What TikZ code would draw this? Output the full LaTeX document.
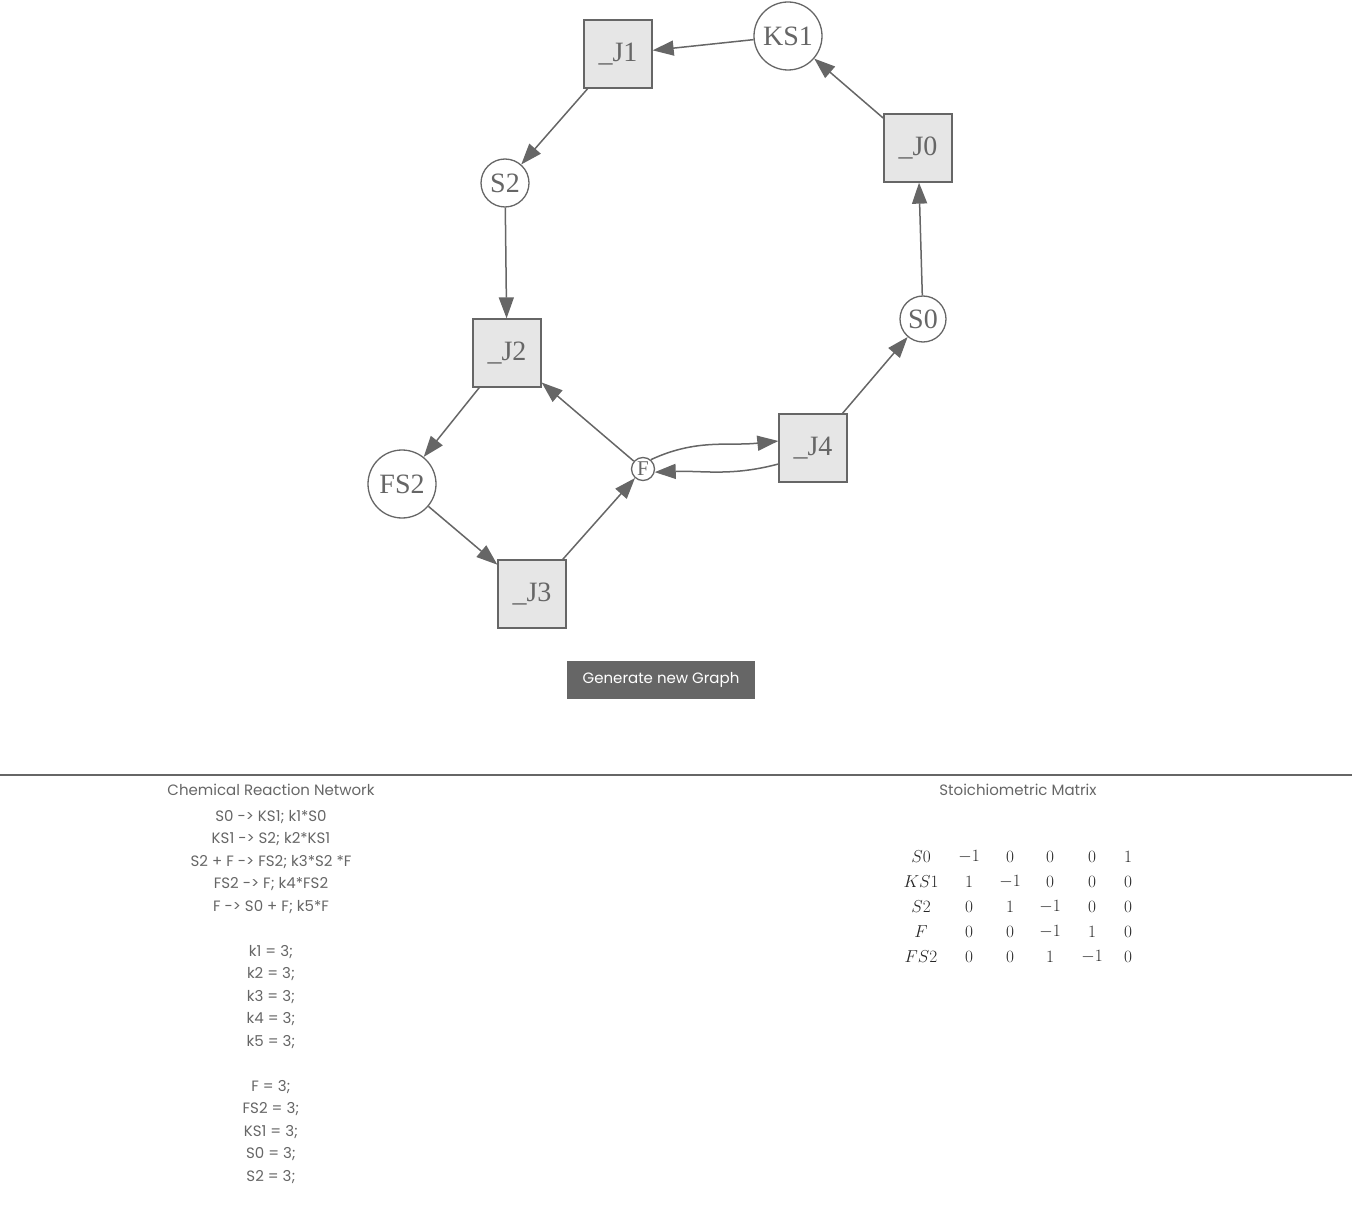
\documentclass[tikz,border=0pt]{standalone}
\usepackage{fontspec}
\newfontfamily\graphfont{Liberation Serif}
\newfontfamily\uifont{Poppins}
\usetikzlibrary{arrows.meta}
\definecolor{edgegray}{HTML}{666666}
\definecolor{boxgray}{HTML}{E6E6E6}
\definecolor{textgray}{HTML}{666666}
\tikzset{
  species/.style={circle, draw=edgegray, line width=1.3pt, fill=white, inner sep=0pt, text=edgegray, font=\graphfont\fontsize{28}{28}\selectfont},
  reaction/.style={rectangle, draw=edgegray, line width=1.3pt, fill=boxgray, minimum size=68pt, inner sep=0pt, text=edgegray, font=\graphfont\fontsize{28}{28}\selectfont},
  edge/.style={draw=edgegray, line width=1.5pt, -{Triangle[length=21pt,width=15pt]}},
  crn/.style={text=textgray, font=\uifont\fontsize{15}{15}\selectfont},
  stoich/.style={text=black!85, font=\fontsize{16.5}{16.5}\selectfont},
}

\begin{document}
\begin{tikzpicture}[x=1pt, y=-1pt]
  \useasboundingbox (0,0) rectangle (1352,1214);

  %%%%% GRAPH %%%%%
  \node[species, minimum size=68pt] (KS1) at (788,36) {KS1};
  \node[reaction] (J1) at (618,54) {\_J1};
  \node[reaction] (J0) at (918,148) {\_J0};
  \node[species, minimum size=48pt] (S2) at (505,183) {S2};
  \node[species, minimum size=46pt] (S0) at (923,319) {S0};
  \node[reaction] (J2) at (507,353) {\_J2};
  \node[species, minimum size=68pt] (FS2) at (402,484) {FS2};
  \node[species, minimum size=23pt, font=\graphfont\fontsize{21}{21}\selectfont] (F) at (643,469) {F};
  \node[reaction] (J4) at (813,448) {\_J4};
  \node[reaction] (J3) at (532,594) {\_J3};

  \draw[edge] (KS1) -- (J1);
  \draw[edge] (J0) -- (KS1);
  \draw[edge] (J1) -- (S2);
  \draw[edge] (S0) -- (J0);
  \draw[edge] (S2) -- (J2);
  \draw[edge] (J2) -- (FS2);
  \draw[edge] (FS2) -- (J3);
  \draw[edge] (J3) -- (F);
  \draw[edge] (F) -- (J2);
  \draw[edge] (F.50) to[out=25, in=186] ([yshift=7pt]J4.west);
  \draw[edge] ([yshift=-16pt]J4.west) to[out=195, in=2] (F.-15);
  \draw[edge] (J4) -- (S0);

  \node[fill=edgegray, text=white, minimum width=188pt, minimum height=38pt, inner sep=0pt, font=\uifont\fontsize{15}{15}\selectfont] (button) at (661,680) {Generate new Graph};

  %%%%% SEPARATOR %%%%%
  \draw[edgegray, line width=1.5pt] (0,775) -- (1352,775);

  %%%%% REACTIONS %%%%%
  \node[crn] (crntitle) at (271,790) {Chemical Reaction Network};
  \foreach \y/\t in {817/{S0 -> KS1; k1*S0}, 839/{KS1 -> S2; k2*KS1}, 862/{S2 + F -> FS2; k3*S2 *F},
                     884/{FS2 -> F; k4*FS2}, 907/{F -> S0 + F; k5*F},
                     952/{k1 = 3;}, 974/{k2 = 3;}, 997/{k3 = 3;}, 1019/{k4 = 3;}, 1042/{k5 = 3;},
                     1087/{F = 3;}, 1109/{FS2 = 3;}, 1132/{KS1 = 3;}, 1154/{S0 = 3;}, 1177/{S2 = 3;}}
    \node[crn] at (271,\y) {\t};

  %%%%% MATRIX %%%%%
  \node[crn] (mattitle) at (1018,790) {Stoichiometric Matrix};
  \foreach \lab/\a/\b/\c/\d/\e [count=\r from 0] in {S0/-1/0/0/0/1, KS1/1/-1/0/0/0, S2/0/1/-1/0/0, F/0/0/-1/1/0, FS2/0/0/1/-1/0} {
    \node[stoich] at (921,857+25*\r) {$\lab$};
    \node[stoich] at (969,857+25*\r) {$\a$};
    \node[stoich] at (1010,857+25*\r) {$\b$};
    \node[stoich] at (1050,857+25*\r) {$\c$};
    \node[stoich] at (1092,857+25*\r) {$\d$};
    \node[stoich] at (1128,857+25*\r) {$\e$};
  }
\end{tikzpicture}
\end{document}
